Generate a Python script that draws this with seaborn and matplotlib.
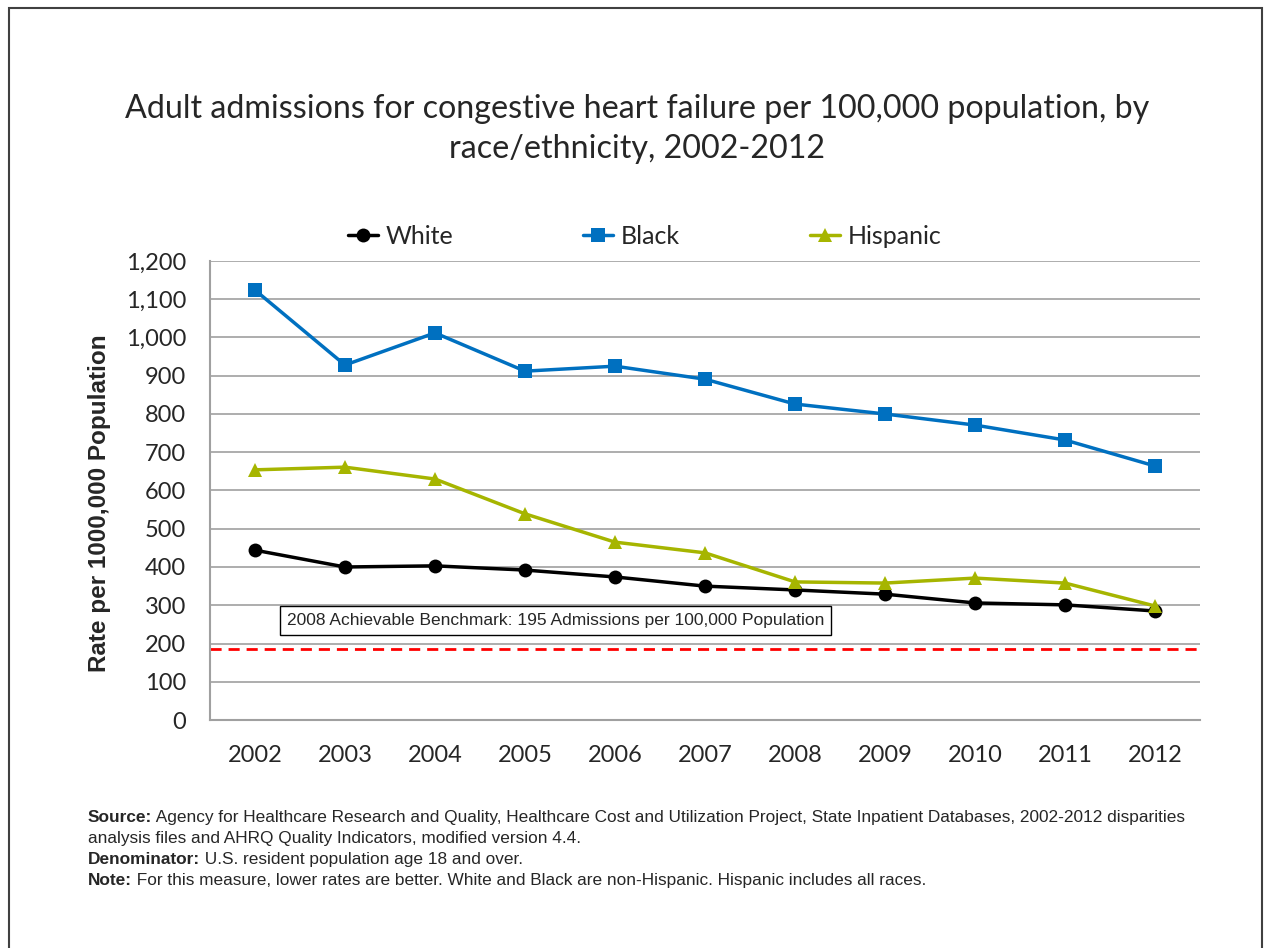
import matplotlib
matplotlib.use("Agg")
import matplotlib.pyplot as plt
import pandas as pd
import numpy as np
import seaborn as sns
from matplotlib.patches import Rectangle
from matplotlib.ticker import FuncFormatter, FixedLocator

# Valeurs
years = [2002, 2003, 2004, 2005, 2006, 2007, 2008, 2009, 2010, 2011, 2012]
white = [444, 400, 403, 392, 374, 350, 340, 329, 306, 301, 285]
black = [1124, 928, 1012, 912, 925, 891, 826, 800, 771, 732, 664]
hispanic = [654, 661, 630, 539, 465, 437, 361, 358, 371, 358, 298]
groups = ["White", "Black", "Hispanic"]
benchmark = 186
benchmark_label = "2008 Achievable Benchmark: 195 Admissions per 100,000 Population"

title = "Adult admissions for congestive heart failure per 100,000 population, by\nrace/ethnicity, 2002-2012"
ylabel = "Rate per 1000,000 Population"
notes = [
    ("Source:", " Agency for Healthcare Research and Quality, Healthcare Cost and Utilization Project, State Inpatient Databases, 2002-2012 disparities"),
    ("", "analysis files and AHRQ Quality Indicators, modified version 4.4."),
    ("Denominator:", " U.S. resident population age 18 and over."),
    ("Note:", " For this measure, lower rates are better. White and Black are non-Hispanic. Hispanic includes all races."),
]

df = pd.DataFrame({
    "year": years * 3,
    "rate": white + black + hispanic,
    "group": ["White"] * 11 + ["Black"] * 11 + ["Hispanic"] * 11,
})

colors = {"White": "#000000", "Black": "#0070C0", "Hispanic": "#A6B500"}
markers = {"White": "o", "Black": "s", "Hispanic": "^"}

sns.set_style("white")
main_font = ["Lato", "DejaVu Sans"]
note_font = ["Liberation Sans", "DejaVu Sans"]

fig = plt.figure(figsize=(12.64, 9.48), dpi=100)
ax = fig.add_axes([0.1661, 0.2405, 0.7833, 0.4842])

sns.lineplot(data=df, x="year", y="rate", hue="group", style="group",
             palette=colors, markers=markers, dashes=False, linewidth=2.5,
             markersize=10, markeredgewidth=0, ax=ax, legend=False)

ax.axhline(benchmark, color="#FF0000", linestyle=(0, (4, 2.5)), linewidth=2)

ax.set_xlim(2001.5, 2012.5)
ax.set_ylim(0, 1200)
ax.set_yticks(np.arange(0, 1201, 100))
ax.yaxis.set_major_formatter(FuncFormatter(lambda v, p: f"{int(v):,}"))
ax.set_xticks(years)
ax.xaxis.set_minor_locator(FixedLocator(np.arange(2001.5, 2013, 1)))
ax.tick_params(axis="x", which="major", length=0, pad=18)
ax.tick_params(axis="x", which="minor", length=8, color="#A0A0A0", width=1.2)
ax.tick_params(axis="y", length=9, color="#A0A0A0", width=1.2, pad=8)
for lab in ax.get_xticklabels() + ax.get_yticklabels():
    lab.set_family(main_font)
    lab.set_fontsize(17)
ax.grid(axis="y", color="#A0A0A0", linewidth=1.2)
ax.set_axisbelow(True)
for s in ["top", "right"]:
    ax.spines[s].set_visible(False)
for s in ["left", "bottom"]:
    ax.spines[s].set_color("#A0A0A0")
    ax.spines[s].set_linewidth(1.5)

ax.set_xlabel("")
ax.set_ylabel(ylabel, family=note_font, fontsize=17.5, fontweight="bold")
ax.yaxis.set_label_coords(-0.100, 0.473)

ax.text(0.0778, 259, benchmark_label, transform=ax.get_yaxis_transform(),
        ha="left", va="center", family=note_font, fontsize=12.5,
        bbox=dict(boxstyle="square,pad=0.4", facecolor="white", edgecolor="black", linewidth=1))

# Légende
handles = [plt.Line2D([], [], color=colors[g], marker=markers[g], linewidth=2.5,
                      markersize=10, markeredgewidth=0) for g in groups]
fig.legend(handles, groups, loc="center", bbox_to_anchor=(0.51, 0.751), ncol=3,
           frameon=False, prop={"family": main_font, "size": 18},
           handlelength=1.2, handletextpad=0.3, columnspacing=5.2)

fig.text(0.504, 0.864, title, ha="center", va="center", family=main_font,
         fontsize=23.2, linespacing=1.4)

# Notes
fig.canvas.draw()
renderer = fig.canvas.get_renderer()
ys = [822, 843, 864, 885]
for (bold, rest), y in zip(notes, ys):
    yf = 1 - y / 948
    x0 = 88 / 1264
    if bold:
        t = fig.text(x0, yf, bold, ha="left", va="baseline", family=note_font,
                     fontsize=12.4, fontweight="bold")
        bb = t.get_window_extent(renderer)
        x0 = bb.x1 / fig.bbox.width
    fig.text(x0, yf, rest, ha="left", va="baseline", family=note_font, fontsize=12.4)

fig.patches.append(Rectangle((9 / 1264, -0.01), 1253 / 1264, 1 - 8 / 948 + 0.01,
                             transform=fig.transFigure, fill=False,
                             edgecolor="#404040", linewidth=1.5))

fig.savefig("out.png", dpi=100)
